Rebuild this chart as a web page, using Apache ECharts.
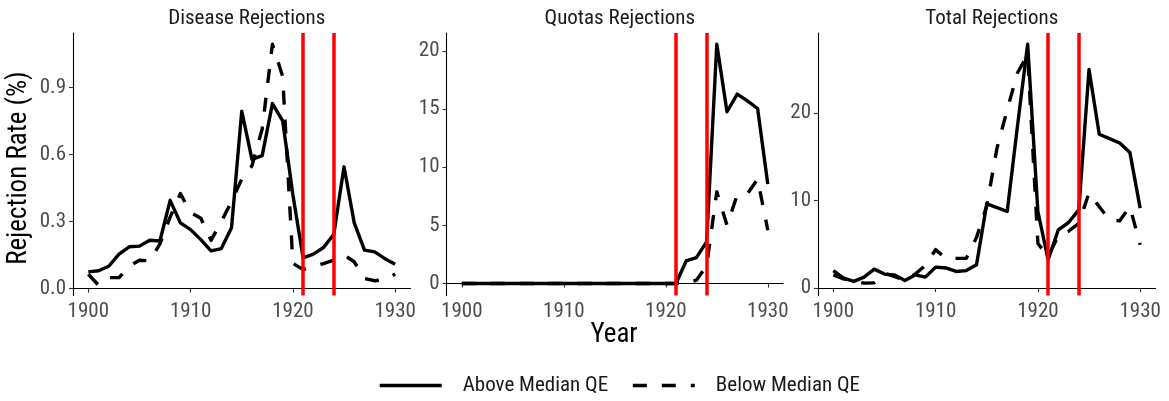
<!DOCTYPE html>
<html>
<head>
<meta charset="utf-8">
<script src="https://cdn.jsdelivr.net/npm/echarts@6.0.0/dist/echarts.min.js"></script>
<style>
  html, body { margin: 0; padding: 0; background: #fff; }
  #chart { width: 1169px; height: 401px; }
</style>
</head>
<body>
<div id="chart"></div>
<script>
const years = [1900, 1901, 1902, 1903, 1904, 1905, 1906, 1907, 1908, 1909,
  1910, 1911, 1912, 1913, 1914, 1915, 1916, 1917, 1918, 1919,
  1920, 1921, 1922, 1923, 1924, 1925, 1926, 1927, 1928, 1929, 1930];

const panelTitles = ["Disease Rejections", "Quotas Rejections", "Total Rejections"];
const seriesNames = ["Above Median QE", "Below Median QE"];
const policyYears = [1921, 1924];
const xTicks = [1900, 1910, 1920, 1930];

// disease rejections (%)
const diseaseAbove = [0.075, 0.08, 0.10, 0.154, 0.187, 0.19, 0.216, 0.213, 0.395, 0.294,
  0.264, 0.219, 0.169, 0.179, 0.272, 0.794, 0.578, 0.595, 0.828, 0.751,
  0.42, 0.137, 0.154, 0.184, 0.243, 0.545, 0.294, 0.172, 0.164, 0.134, 0.109];
const diseaseBelow = [0.064, 0.015, 0.049, 0.049, 0.10, 0.127, 0.124, 0.20, 0.32, 0.425,
  0.34, 0.315, 0.216, 0.30, 0.39, 0.49, 0.55, 0.715, 1.094, 0.95,
  0.113, 0.085, 0.10, 0.112, 0.127, 0.15, 0.12, 0.045, 0.035, 0.04, 0.065];

// quota rejections (%)
const quotaAbove = [0, 0, 0, 0, 0, 0, 0, 0, 0, 0,
  0, 0, 0, 0, 0, 0, 0, 0, 0, 0,
  0, 0, 1.95, 2.23, 3.58, 20.57, 14.76, 16.28, 15.7, 15.04, 8.54];
const quotaBelow = [0, 0, 0, 0, 0, 0, 0, 0, 0, 0,
  0, 0, 0, 0, 0, 0, 0, 0, 0, 0,
  0, 0, 0, 0.29, 1.5, 7.88, 5.0, 7.6, 7.7, 8.97, 4.58];

// total rejections (%)
const totalAbove = [2.0, 1.14, 0.76, 1.25, 2.17, 1.6, 1.5, 0.87, 1.5, 1.25,
  2.4, 2.3, 1.9, 2.0, 2.67, 9.64, 9.2, 8.76, 18.5, 27.9,
  8.76, 3.24, 6.67, 7.5, 8.95, 25.0, 17.6, 17.1, 16.6, 15.5, 9.14];
const totalBelow = [1.5, 1.06, 0.76, 0.57, 0.6, 1.7, 1.3, 0.9, 1.6, 2.6,
  4.4, 3.4, 3.4, 3.4, 5.8, 9.4, 16.0, 20.4, 24.6, 26.7,
  5.1, 3.6, 6.0, 6.5, 7.4, 10.9, 9.3, 7.8, 7.7, 9.3, 4.95];

const yTicks = [[0, 0.3, 0.6, 0.9], [0, 5, 10, 15, 20], [0, 10, 20]];
const yRanges = [[-0.031, 1.144], [-1.03, 21.53], [-0.85, 29.18]];

const FONT = "'Roboto Condensed', Roboto, sans-serif";
const DASH = [14, 15];
const grids = [
  { left: 73, top: 33, width: 337.5, height: 262.5 },
  { left: 446.5, top: 33, width: 336.6, height: 262.5 },
  { left: 818, top: 33, width: 337.5, height: 262.5 }
];
const panelData = [[diseaseAbove, diseaseBelow], [quotaAbove, quotaBelow], [totalAbove, totalBelow]];

const pairs = (vals) => years.map((y, i) => [y, vals[i]]);

const option = {
  animation: false,
  backgroundColor: "#fff",
  title: panelTitles.map((t, i) => ({
    text: t,
    left: grids[i].left + grids[i].width / 2,
    top: 3,
    textAlign: "center",
    textStyle: { fontFamily: FONT, fontSize: 21, fontWeight: "normal", color: "#1a1a1a" }
  })),
  grid: grids.map(g => Object.assign({ containLabel: false, outerBoundsMode: "none" }, g)),
  xAxis: grids.map((g, i) => ({
    type: "value",
    gridIndex: i,
    min: 1898.5,
    max: 1931.5,
    splitLine: { show: false },
    axisLine: { lineStyle: { color: "#000", width: 1.1 } },
    axisTick: { length: 4, customValues: xTicks, lineStyle: { color: "#333", width: 1.1 } },
    axisLabel: {
      customValues: xTicks, margin: 6, fontFamily: FONT, fontSize: 21, color: "#4d4d4d",
      formatter: v => String(v)
    }
  })),
  yAxis: grids.map((g, i) => ({
    type: "value",
    gridIndex: i,
    min: yRanges[i][0],
    max: yRanges[i][1],
    splitLine: { show: false },
    axisLine: { show: true, lineStyle: { color: "#000", width: 1.1 } },
    axisTick: { show: true, length: 4, customValues: yTicks[i], lineStyle: { color: "#333", width: 1.1 } },
    axisLabel: {
      customValues: yTicks[i], margin: 7, fontFamily: FONT, fontSize: 21, color: "#4d4d4d",
      formatter: v => i === 0 ? v.toFixed(1) : String(v)
    }
  })),
  legend: {
    data: seriesNames,
    bottom: 0,
    left: 373,
    itemWidth: 62,
    itemHeight: 14,
    itemGap: 23,
    itemStyle: { opacity: 0 },
    lineStyle: { width: 3.4 },
    textStyle: { fontFamily: FONT, fontSize: 21, color: "#1a1a1a", padding: [0, 0, 0, 16] }
  },
  graphic: [
    {
      type: "text", x: 19, y: 168, rotation: Math.PI / 2,
      style: { text: "Rejection Rate (%)", fontFamily: FONT, fontSize: 27, fill: "#000", textAlign: "center", textVerticalAlign: "middle" }
    },
    {
      type: "text", x: 614, y: 335,
      style: { text: "Year", fontFamily: FONT, fontSize: 27, fill: "#000", textAlign: "center", textVerticalAlign: "middle" }
    }
  ],
  series: []
};

panelData.forEach((pd, i) => {
  pd.forEach((vals, k) => {
    const s = {
      name: seriesNames[k],
      type: "line",
      xAxisIndex: i,
      yAxisIndex: i,
      data: pairs(vals),
      symbol: "none",
      lineStyle: { color: "#000", width: 3.4, type: k === 0 ? "solid" : DASH, cap: "butt", join: "round" },
      itemStyle: { color: "#000" },
      z: 2
    };
    if (k === 0) {
      s.markLine = {
        silent: true,
        symbol: "none",
        label: { show: false },
        z: 5,
        lineStyle: { color: "#ff0000", width: 3.5, type: "solid" },
        data: policyYears.map(y => ({ xAxis: y }))
      };
    }
    option.series.push(s);
  });
});

const chart = echarts.init(document.getElementById("chart"), null, { renderer: "canvas" });
chart.setOption(option);
</script>
</body>
</html>
